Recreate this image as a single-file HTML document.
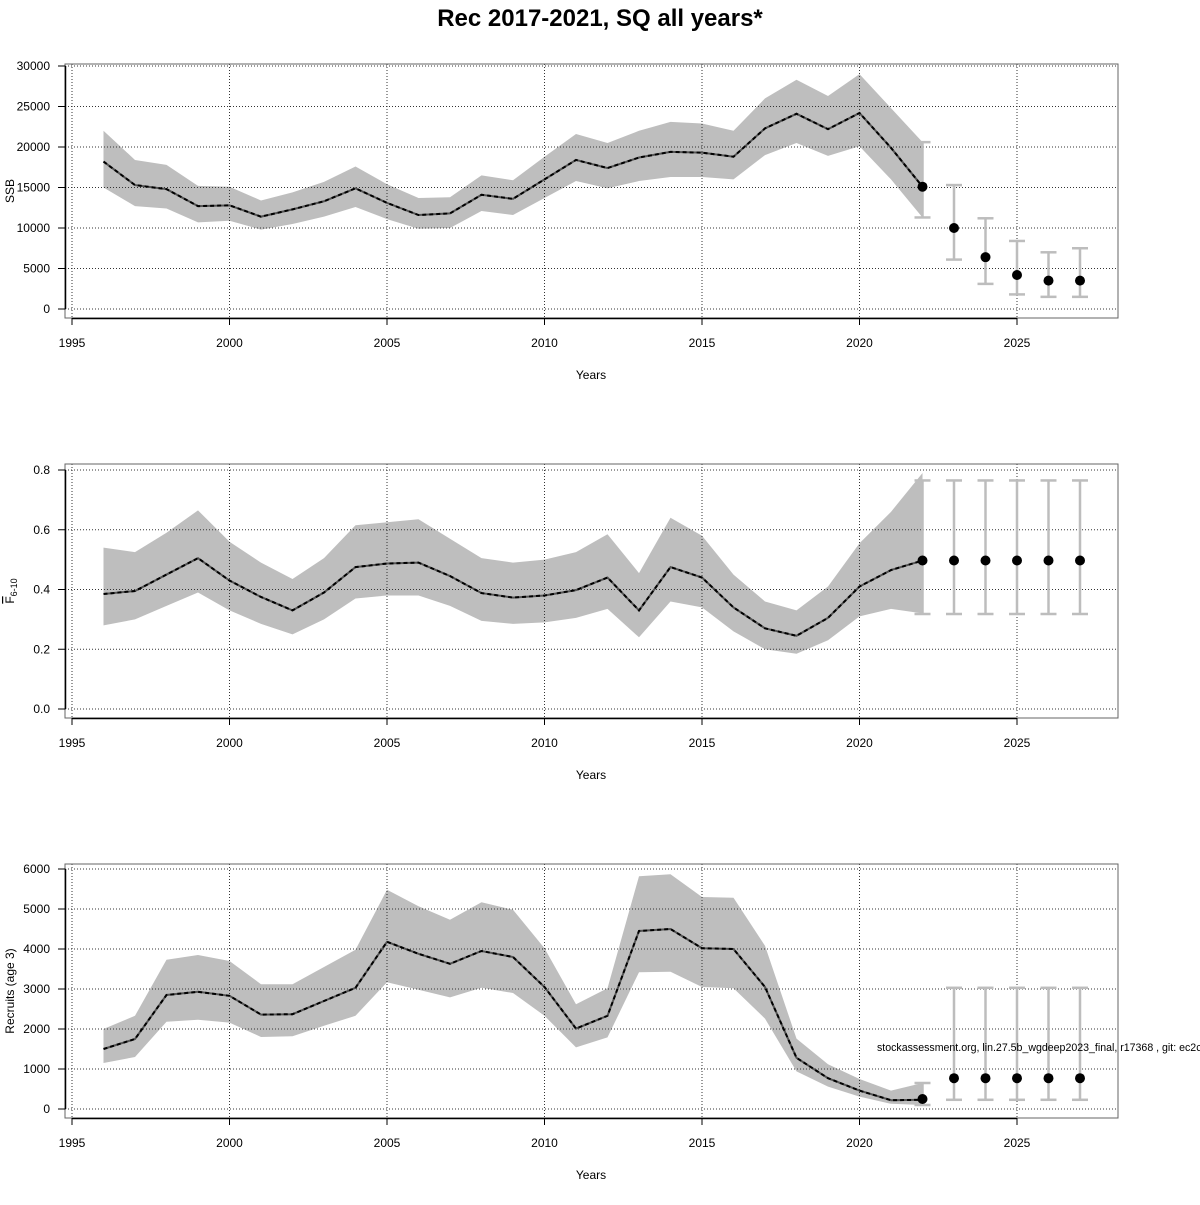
<!DOCTYPE html>
<html><head><meta charset="utf-8"><style>
body{margin:0;background:#fff;font-family:"Liberation Sans",sans-serif}
</style></head><body>
<svg id="c" width="1200" height="1200" xmlns="http://www.w3.org/2000/svg" font-family="Liberation Sans, sans-serif">
<text x="600" y="26" text-anchor="middle" font-size="24" font-weight="bold">Rec 2017-2021, SQ all years*</text>
</svg>
<script>
const years=[1996,1997,1998,1999,2000,2001,2002,2003,2004,2005,2006,2007,2008,2009,2010,2011,2012,2013,2014,2015,2016,2017,2018,2019,2020,2021,2022];
const projYears=[2022,2023,2024,2025,2026,2027];
const ssb=[18200,15300,14800,12700,12800,11400,12300,13300,14900,13100,11600,11800,14100,13600,16000,18400,17400,18700,19400,19300,18800,22300,24100,22200,24200,19900,15100];
const ssbHi=[22000,18400,17800,15200,15100,13400,14400,15700,17600,15400,13700,13800,16500,15900,18800,21600,20500,22000,23100,22900,22000,26000,28300,26300,29000,24800,20600];
const ssbLo=[15000,12700,12400,10700,10900,9800,10500,11400,12600,11100,9900,10000,12100,11600,13700,15800,14900,15800,16300,16300,16000,19000,20500,18900,20100,16000,11300];
const ssbProj=[15100,10000,6400,4200,3500,3500];
const ssbProjHi=[20600,15300,11200,8400,7000,7500];
const ssbProjLo=[11300,6100,3100,1800,1500,1500];
const fbar=[.385,.395,.45,.505,.43,.375,.33,.39,.475,.487,.49,.445,.388,.373,.38,.398,.44,.33,.475,.44,.34,.27,.245,.305,.41,.465,.497];
const fbarHi=[.54,.525,.59,.665,.56,.49,.435,.505,.615,.625,.635,.57,.505,.49,.5,.525,.585,.455,.64,.58,.45,.36,.33,.41,.555,.66,.79];
const fbarLo=[.28,.30,.345,.39,.33,.285,.25,.30,.37,.38,.38,.345,.295,.285,.29,.305,.335,.24,.36,.34,.26,.20,.185,.23,.31,.335,.32];
const fProj=[.497,.497,.497,.497,.497,.497];
const fProjHi=[.765,.765,.765,.765,.765,.765];
const fProjLo=[.318,.318,.318,.318,.318,.318];
const rec=[1500,1750,2850,2930,2830,2360,2370,2700,3030,4180,3880,3630,3950,3800,3050,2010,2330,4450,4500,4020,4000,3050,1280,770,460,220,230];
const recHi=[2000,2330,3730,3850,3700,3120,3120,3550,3980,5480,5070,4730,5170,4980,4020,2620,3020,5820,5870,5300,5280,4080,1760,1120,750,460,650];
const recLo=[1150,1300,2180,2230,2160,1800,1820,2080,2330,3170,2980,2790,3030,2900,2330,1540,1790,3420,3430,3050,3020,2260,940,560,310,130,100];
const recProj=[250,770,770,770,770,770];
const recProjHi=[650,3030,3030,3030,3030,3030];
const recProjLo=[100,230,230,230,230,230];
const xTicks=[1995,2000,2005,2010,2015,2020,2025];
const ssbTicks=[0,5000,10000,15000,20000,25000,30000];
const fTicks=[0,0.2,0.4,0.6,0.8];
const recTicks=[0,1000,2000,3000,4000,5000,6000];

const svg=document.getElementById('c');
const NS='http://www.w3.org/2000/svg';
function mk(tag,attrs,parent){const e=document.createElementNS(NS,tag);for(const k in attrs)e.setAttribute(k,attrs[k]);(parent||svg).appendChild(e);return e;}
const X=y=>72+(y-1995)*31.5;

function panel(name,top,topOff,ymax,ticks,fmt,val,hi,lo,pv,ph,pl,ylab){
  const bTop=top,bBot=top+254;
  const y0=bBot-9,yT=bTop+topOff;
  const Y=v=>y0-(v/ymax)*(y0-yT);
  const g=mk('g',{});
  
  
  let d='M'+years.map((y,i)=>X(y)+','+Y(hi[i])).join('L');
  for(let i=years.length-1;i>=0;i--)d+='L'+X(years[i])+','+Y(lo[i]);
  const band=mk('path',{d:d+'Z',fill:'#bebebe'},g);
  
  
  ticks.forEach(t=>{const l=mk('line',{x1:65,x2:1118,y1:Y(t),y2:Y(t),stroke:'#333','stroke-dasharray':'1,2','stroke-width':1},g);
    });
  xTicks.forEach(t=>{const l=mk('line',{x1:X(t),x2:X(t),y1:bTop,y2:bBot,stroke:'#333','stroke-dasharray':'1,2','stroke-width':1},g);
    });
  const pts=years.map((y,i)=>X(y)+','+Y(val[i])).join(' ');
  mk('polyline',{points:pts,fill:'none',stroke:'#555','stroke-width':2},g);
  const ln=mk('polyline',{points:pts,fill:'none',stroke:'#000','stroke-width':2,'stroke-dasharray':'4,3'},g);
  
  projYears.forEach((y,i)=>{
    const x=X(y);
    const eb=mk('g',{stroke:'#bdbdbd','stroke-width':2.5},g);
    
    mk('line',{x1:x,x2:x,y1:Y(ph[i]),y2:Y(pl[i])},eb);
    mk('line',{x1:x-8,x2:x+8,y1:Y(ph[i]),y2:Y(ph[i])},eb);
    mk('line',{x1:x-8,x2:x+8,y1:Y(pl[i]),y2:Y(pl[i])},eb);
    const c=mk('circle',{cx:x,cy:Y(pv[i]),r:5,fill:'#000'},g);
    
  });
  const box=mk('rect',{x:65,y:bTop,width:1053,height:254,fill:'none',stroke:'#666','stroke-width':1},g);
  
  mk('line',{x1:65.5,x2:65.5,y1:Y(ticks[0]),y2:Y(ticks[ticks.length-1]),stroke:'#000','stroke-width':1.5},g);
  ticks.forEach(t=>{mk('line',{x1:58,x2:65,y1:Y(t),y2:Y(t),stroke:'#000'},g);
    const tx=mk('text',{x:50,y:Y(t)+4,'text-anchor':'end','font-size':12},g);tx.textContent=fmt(t);
    });
  mk('line',{x1:X(1995),x2:X(2025),y1:bBot+0.5,y2:bBot+0.5,stroke:'#000','stroke-width':1.5},g);
  xTicks.forEach(t=>{mk('line',{x1:X(t),x2:X(t),y1:bBot,y2:bBot+7,stroke:'#000'},g);
    const tx=mk('text',{x:X(t),y:bBot+29,'text-anchor':'middle','font-size':12},g);tx.textContent=t;
    });
  const xl=mk('text',{x:591,y:bBot+61,'text-anchor':'middle','font-size':12},g);xl.textContent='Years';
  
  const yl=mk('text',{x:0,y:0,'text-anchor':'middle','font-size':12,transform:`translate(14,${(bTop+bBot)/2}) rotate(-90)`},g);
  yl.innerHTML=ylab;
  
}
panel('ssb',64,2,30000,ssbTicks,t=>String(t),ssb,ssbHi,ssbLo,ssbProj,ssbProjHi,ssbProjLo,'SSB');
panel('fbar',464,6,0.8,fTicks,t=>t.toFixed(1),fbar,fbarHi,fbarLo,fProj,fProjHi,fProjLo,'<tspan text-decoration="overline">F</tspan><tspan font-size="9" dy="3">6-10</tspan>');
panel('recruits',864,5,6000,recTicks,t=>String(t),rec,recHi,recLo,recProj,recProjHi,recProjLo,'Recruits (age 3)');
const wm=mk('text',{x:877,y:1051,'font-size':10.6});
wm.textContent='stockassessment.org, lin.27.5b_wgdeep2023_final, r17368 , git: ec2c3';


</script>
</body></html>
